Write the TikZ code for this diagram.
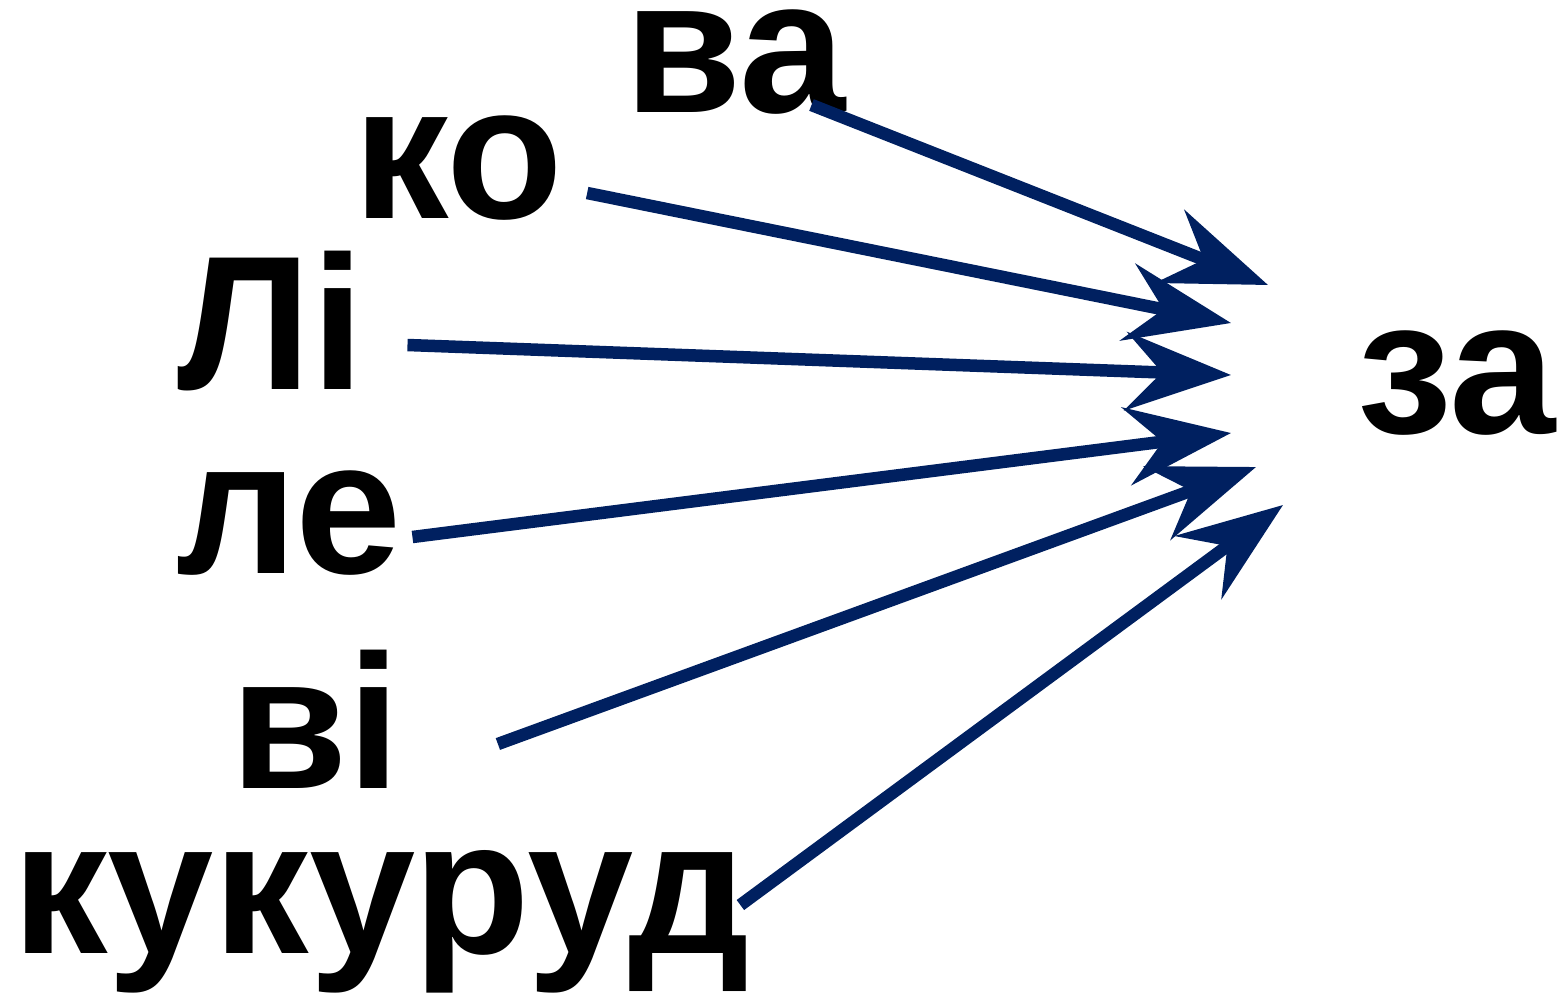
\documentclass[tikz,border=0pt]{standalone}
\usepackage{fontspec}
\setmainfont{Liberation Sans}
\usetikzlibrary{arrows.meta}
\definecolor{navyline}{RGB}{0,32,96}

\begin{document}
\begin{tikzpicture}[x=1pt,y=-1pt]
    % Styles for syllables and arrows
    \tikzset{
      syll/.style={inner sep=0pt, anchor=base west, text height=102pt, text depth=2pt,
        font=\fontsize{191}{200}\selectfont\bfseries},
      tall/.style={text height=139pt},
      arrow/.style={draw=navyline, line width=12.5pt,
        -{Stealth[length=105pt, width=78pt, inset=36pt, fill=navyline]}}
    }
    \useasboundingbox (0,0) rectangle (1562,1002);

    % Syllables with explicit coordinates
    \node[syll] (va) at (624,112) {ва};
    \node[syll] (ko) at (353,218) {ко};
    \node[syll, tall] (li) at (177,389) {Лі};
    \node[syll] (le) at (176,573) {ле};
    \node[syll, tall] (vi) at (230,788) {ві};
    \node[syll, text depth=42pt] (kukurud) at (12,953) {кукуруд};
    \node[syll] (za) at (1357,433) {за};

    % Arrow tips in front of za
    \coordinate (tipva) at (1268,285);
    \coordinate (tipko) at (1231,323);
    \coordinate (tipli) at (1231,375);
    \coordinate (tiple) at (1231,433);
    \coordinate (tipvi) at (1256,467);
    \coordinate (tipkukurud) at (1283,505);

    % Arrows
    \draw[arrow] ([shift={(-34,-7)}]va.base east) -- (tipva);
    \draw[arrow] ([shift={(24,-25)}]ko.base east) -- (tipko);
    \draw[arrow] ([shift={(43,-44)}]li.base east) -- (tipli);
    \draw[arrow] ([shift={(11,-36)}]le.base east) -- (tiple);
    \draw[arrow] ([shift={(97,-44)}]vi.base east) -- (tipvi);
    \draw[arrow] ([shift={(-10,-48)}]kukurud.base east) -- (tipkukurud);
\end{tikzpicture}
\end{document}
